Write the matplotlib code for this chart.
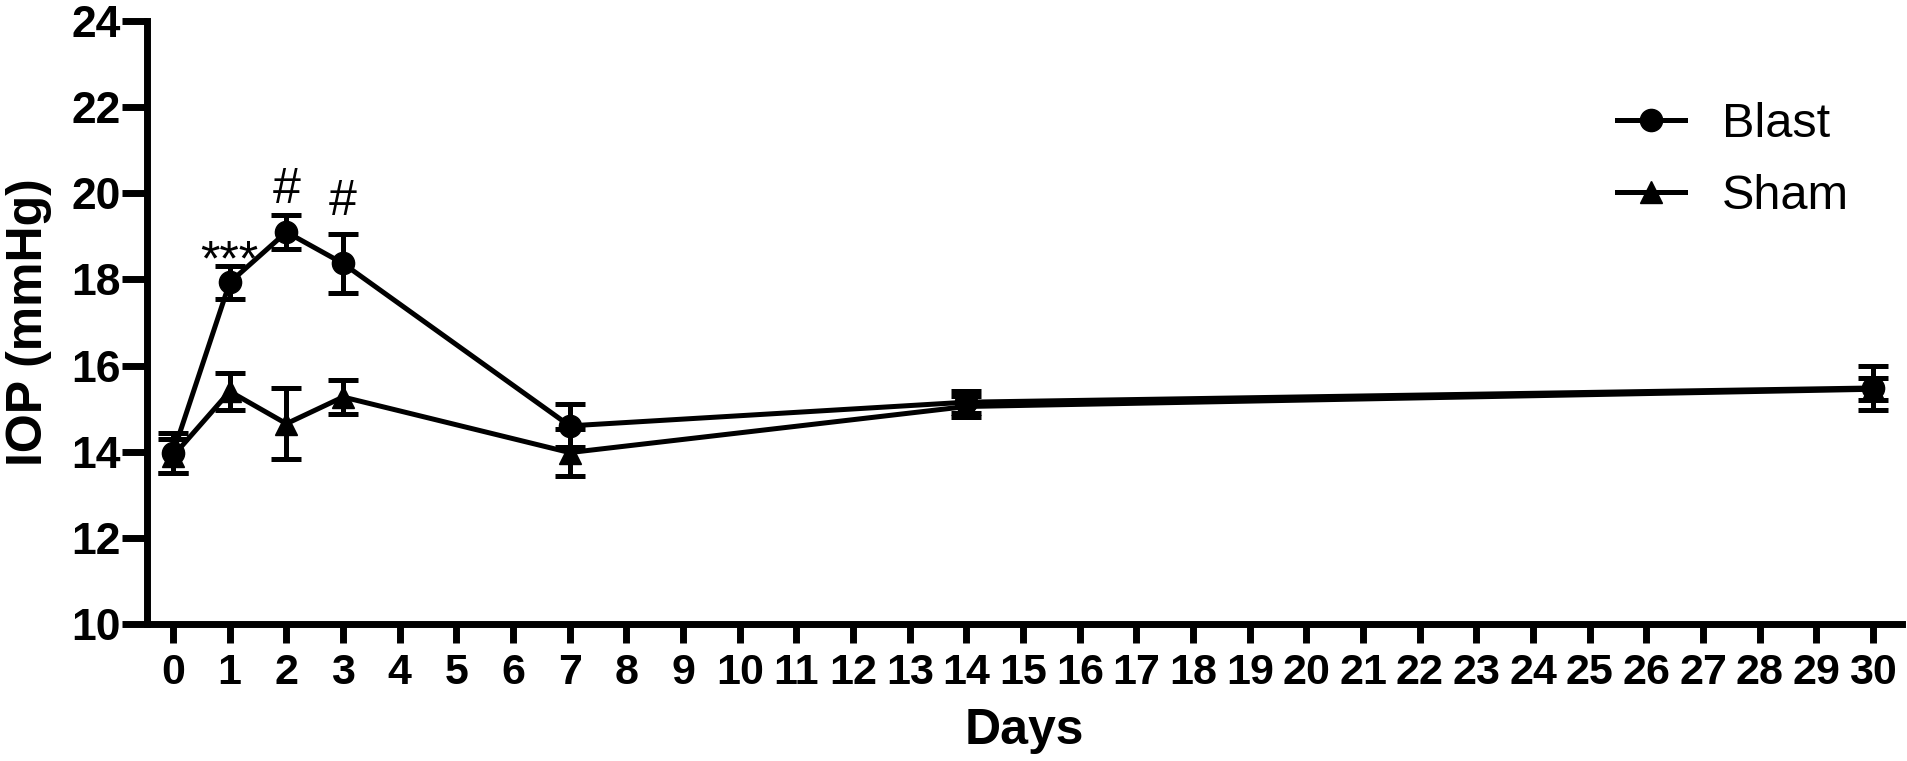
import matplotlib
matplotlib.use("Agg")
import matplotlib.pyplot as plt
from matplotlib.lines import Line2D

plt.rcParams['font.family'] = ['Liberation Sans', 'DejaVu Sans']

days = [0, 1, 2, 3, 7, 14, 30]
blast_mean = [13.97, 17.93, 19.10, 18.37, 14.60, 15.15, 15.48]
blast_sem = [0.46, 0.38, 0.40, 0.68, 0.50, 0.26, 0.50]
sham_mean = [13.90, 15.40, 14.65, 15.27, 13.98, 15.05, 15.45]
sham_sem = [0.40, 0.43, 0.82, 0.40, 0.54, 0.24, 0.26]

# significance marks: (day, y position, text)
marks_day = [1, 2, 3]
marks_y = [18.1, 19.77, 19.5]
marks_text = ['***', '#', '#']

fig = plt.figure(figsize=(19.08, 7.61), dpi=100)
ax = fig.add_axes([147 / 1908, 1 - 624 / 761, (1902 - 147) / 1908, (624 - 21) / 761])

lw = 3.6
ax.errorbar(days, sham_mean, yerr=sham_sem, fmt='-^', color='black', lw=lw, ms=16,
            capsize=10.5, capthick=lw, elinewidth=lw, clip_on=False, zorder=3)
ax.errorbar(days, blast_mean, yerr=blast_sem, fmt='-o', color='black', lw=lw, ms=16,
            capsize=10.5, capthick=lw, elinewidth=lw, clip_on=False, zorder=4)

for d, y, t in zip(marks_day, marks_y, marks_text):
    ax.text(d, y, t, ha='center', va='baseline', fontsize=36, color='black')

ax.set_xlim(-0.46, 30.51)
ax.set_ylim(10, 24)
ax.set_xticks(range(0, 31))
ax.set_yticks(range(10, 25, 2))

for s in ['top', 'right']:
    ax.spines[s].set_visible(False)
for s in ['left', 'bottom']:
    ax.spines[s].set_linewidth(5)

ax.tick_params(axis='y', length=18, width=5, pad=1, labelsize=32)
ax.tick_params(axis='x', length=13.7, width=5, pad=7, labelsize=31)
for lab in ax.get_xticklabels() + ax.get_yticklabels():
    lab.set_fontweight('bold')

ax.set_xlabel('Days', fontsize=36, fontweight='bold', labelpad=11)
ax.set_ylabel('IOP (mmHg)', fontsize=36, fontweight='bold', labelpad=14)

handles = [Line2D([], [], color='black', lw=lw, marker='o', ms=16),
           Line2D([], [], color='black', lw=lw, marker='^', ms=16)]
fig.legend(handles, ['Blast', 'Sham'], loc='upper left',
           bbox_to_anchor=(1617 / 1908, 1 - 102 / 761), frameon=False,
           fontsize=35, handlelength=1.4, handletextpad=0.76,
           labelspacing=0.56, borderpad=0, borderaxespad=0)

fig.savefig('out.png', dpi=100)
